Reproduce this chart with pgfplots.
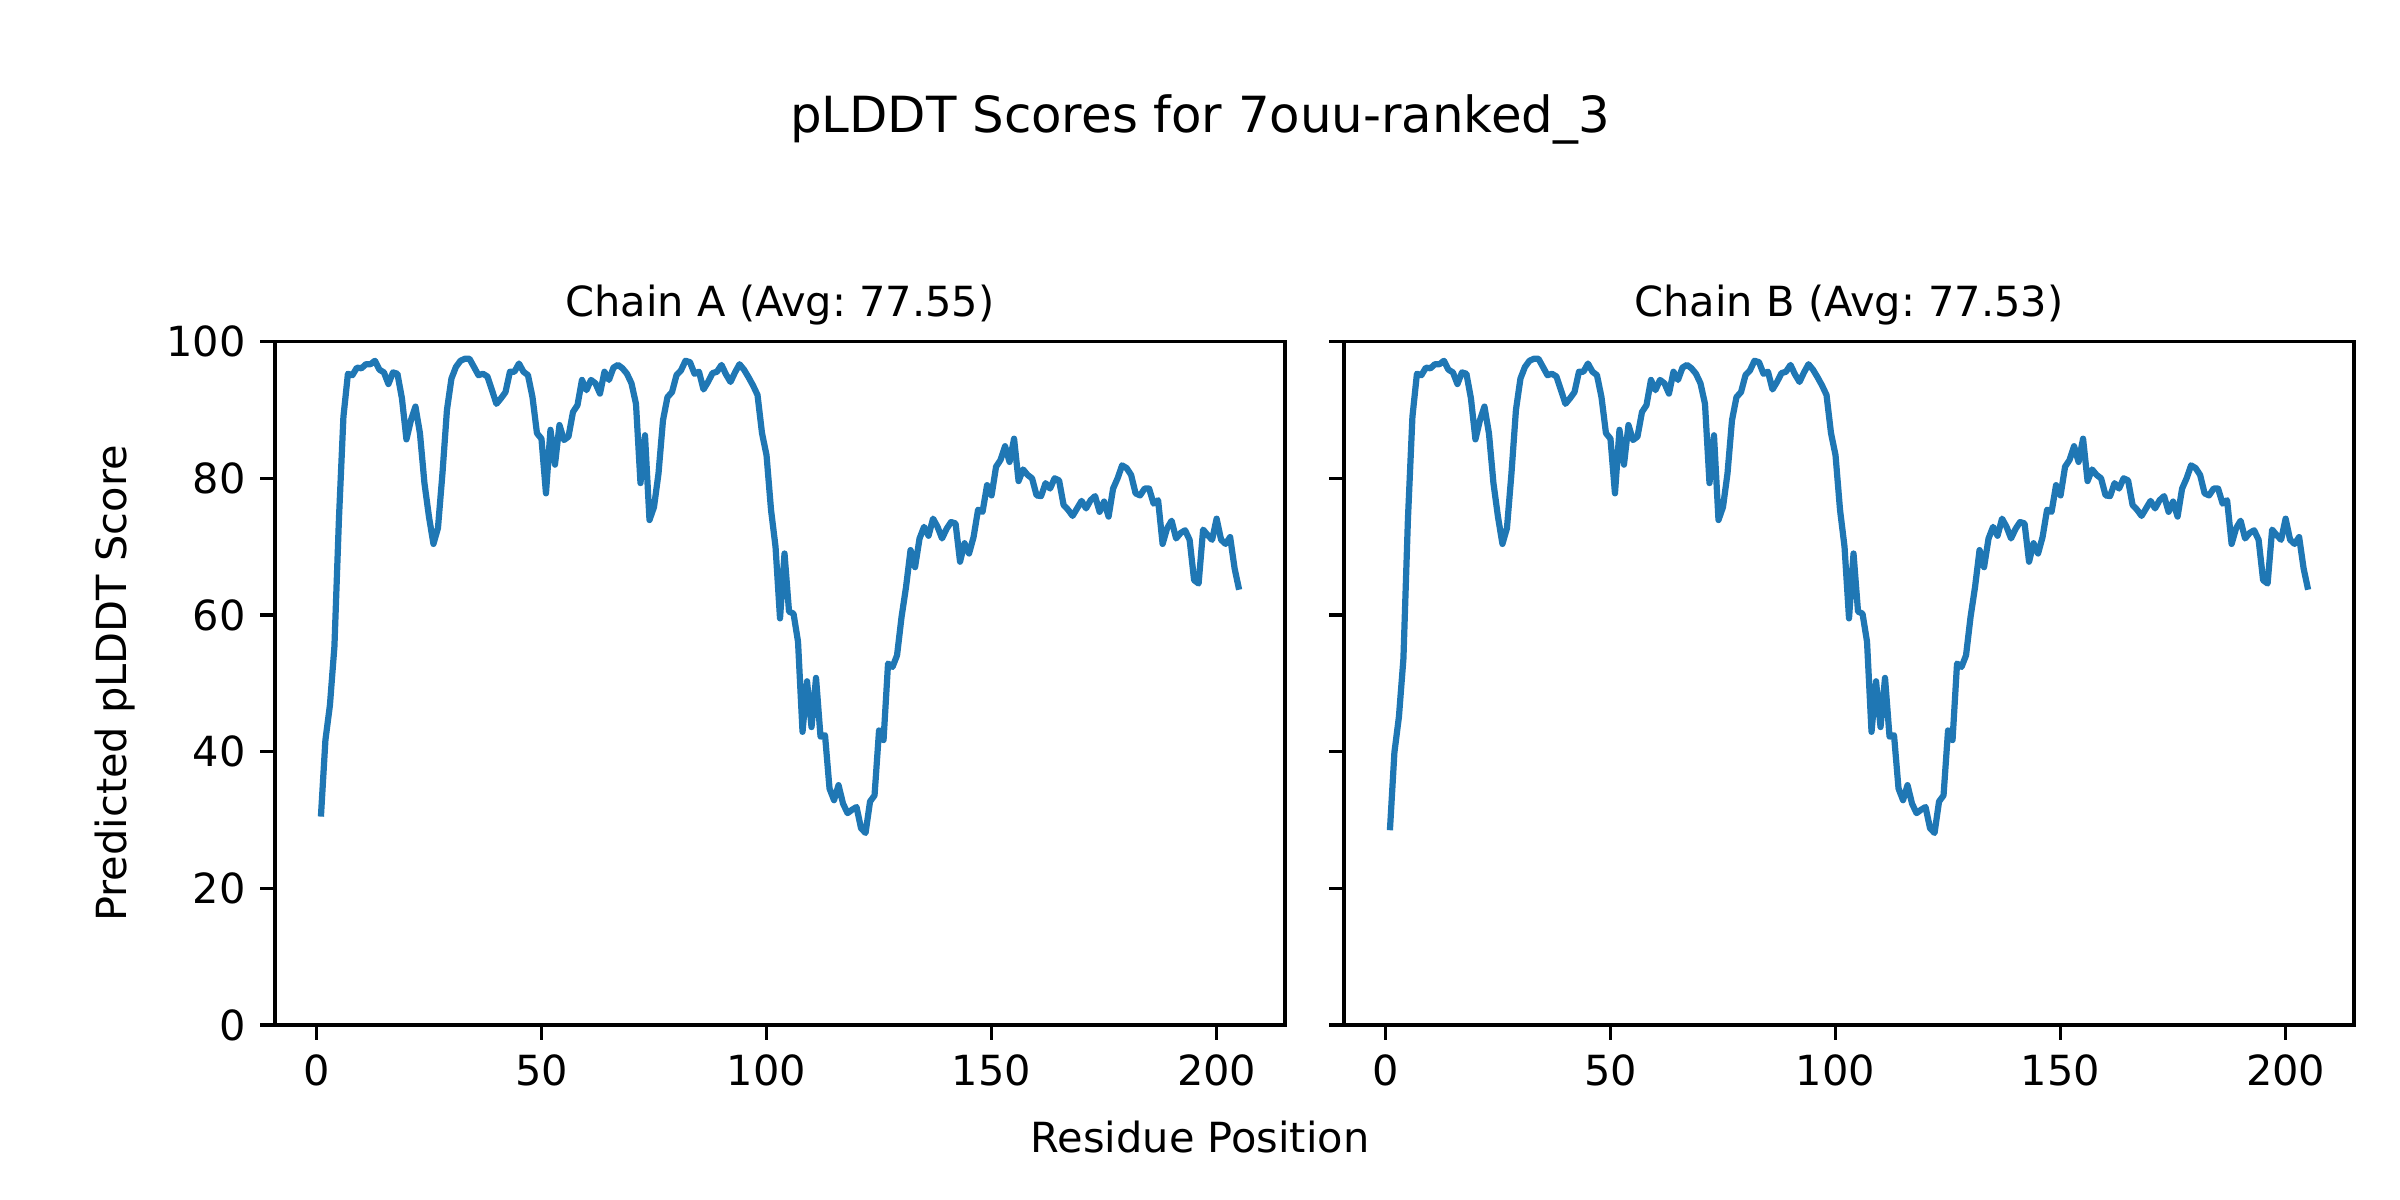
\documentclass[border=0pt]{standalone}
\usepackage{fontspec}
\setmainfont{DejaVu Sans}
\usepackage{pgfplots}
\usepackage{pgfplotstable}
\pgfplotsset{compat=1.18}
\definecolor{mplblue}{HTML}{1F77B4}
\frenchspacing

\pgfplotstableread{
x y
1 30.5
2 41.7
3 46.8
4 55.4
5 74.0
6 89.0
7 95.3
8 95.1
9 96.2
10 96.1
11 96.7
12 96.7
13 97.2
14 95.9
15 95.5
16 93.8
17 95.5
18 95.3
19 91.7
20 85.7
21 88.5
22 90.5
23 86.6
24 79.3
25 74.4
26 70.4
27 72.7
28 80.7
29 90.0
30 94.6
31 96.3
32 97.2
33 97.5
34 97.5
35 96.3
36 95.1
37 95.3
38 94.9
39 92.9
40 90.9
41 91.7
42 92.6
43 95.6
44 95.6
45 96.8
46 95.6
47 95.1
48 91.9
49 86.6
50 85.8
51 77.8
52 87.1
53 82.0
54 87.8
55 85.6
56 86.1
57 89.7
58 90.7
59 94.4
60 92.9
61 94.4
62 93.9
63 92.4
64 95.6
65 94.4
66 96.2
67 96.6
68 96.1
69 95.3
70 93.9
71 90.9
72 79.3
73 86.3
74 73.9
75 75.8
76 80.7
77 88.5
78 91.9
79 92.6
80 95.1
81 95.8
82 97.2
83 97.0
84 95.3
85 95.6
86 93.0
87 94.1
88 95.4
89 95.6
90 96.6
91 95.2
92 94.1
93 95.5
94 96.7
95 95.9
96 94.8
97 93.6
98 92.2
99 86.6
100 83.4
101 75.4
102 70.0
103 59.5
104 69.0
105 60.5
106 60.2
107 56.1
108 42.9
109 50.3
110 43.6
111 50.8
112 42.2
113 42.4
114 34.6
115 32.9
116 35.1
117 32.4
118 31.0
119 31.5
120 31.9
121 28.8
122 28.1
123 32.7
124 33.6
125 43.1
126 41.7
127 52.9
128 52.4
129 54.1
130 59.7
131 64.1
132 69.5
133 67.0
134 71.2
135 72.9
136 71.6
137 74.1
138 72.9
139 71.2
140 72.6
141 73.6
142 73.4
143 67.8
144 70.5
145 69.0
146 71.4
147 75.4
148 75.1
149 79.0
150 77.5
151 81.7
152 82.7
153 84.7
154 82.4
155 85.8
156 79.6
157 81.3
158 80.5
159 80.0
160 77.5
161 77.4
162 79.3
163 78.5
164 80.0
165 79.7
166 76.1
167 75.4
168 74.5
169 75.6
170 76.7
171 75.6
172 76.8
173 77.4
174 75.1
175 76.6
176 74.4
177 78.5
178 80.0
179 81.9
180 81.5
181 80.5
182 77.8
183 77.5
184 78.5
185 78.5
186 76.3
187 76.8
188 70.4
189 72.7
190 73.8
191 71.2
192 72.0
193 72.4
194 71.0
195 65.1
196 64.6
197 72.5
198 71.7
199 71.0
200 74.1
201 71.0
202 70.4
203 71.4
204 66.8
205 63.7
}\chainA

\pgfplotstableread{
x y
1 28.5
2 39.9
3 45.1
4 53.6
5 74.0
6 89.0
7 95.3
8 95.1
9 96.2
10 96.1
11 96.7
12 96.7
13 97.2
14 95.9
15 95.5
16 93.8
17 95.5
18 95.3
19 91.7
20 85.7
21 88.5
22 90.5
23 86.6
24 79.3
25 74.4
26 70.4
27 72.7
28 80.7
29 90.0
30 94.6
31 96.3
32 97.2
33 97.5
34 97.5
35 96.3
36 95.1
37 95.3
38 94.9
39 92.9
40 90.9
41 91.7
42 92.6
43 95.6
44 95.6
45 96.8
46 95.6
47 95.1
48 91.9
49 86.6
50 85.8
51 77.8
52 87.1
53 82.0
54 87.8
55 85.6
56 86.1
57 89.7
58 90.7
59 94.4
60 92.9
61 94.4
62 93.9
63 92.4
64 95.6
65 94.4
66 96.2
67 96.6
68 96.1
69 95.3
70 93.9
71 90.9
72 79.3
73 86.3
74 73.9
75 75.8
76 80.7
77 88.5
78 91.9
79 92.6
80 95.1
81 95.8
82 97.2
83 97.0
84 95.3
85 95.6
86 93.0
87 94.1
88 95.4
89 95.6
90 96.6
91 95.2
92 94.1
93 95.5
94 96.7
95 95.9
96 94.8
97 93.6
98 92.2
99 86.6
100 83.4
101 75.4
102 70.0
103 59.5
104 69.0
105 60.5
106 60.2
107 56.1
108 42.9
109 50.3
110 43.6
111 50.8
112 42.2
113 42.4
114 34.6
115 32.9
116 35.1
117 32.4
118 31.0
119 31.5
120 31.9
121 28.8
122 28.1
123 32.7
124 33.6
125 43.1
126 41.7
127 52.9
128 52.4
129 54.1
130 59.7
131 64.1
132 69.5
133 67.0
134 71.2
135 72.9
136 71.6
137 74.1
138 72.9
139 71.2
140 72.6
141 73.6
142 73.4
143 67.8
144 70.5
145 69.0
146 71.4
147 75.4
148 75.1
149 79.0
150 77.5
151 81.7
152 82.7
153 84.7
154 82.4
155 85.8
156 79.6
157 81.3
158 80.5
159 80.0
160 77.5
161 77.4
162 79.3
163 78.5
164 80.0
165 79.7
166 76.1
167 75.4
168 74.5
169 75.6
170 76.7
171 75.6
172 76.8
173 77.4
174 75.1
175 76.6
176 74.4
177 78.5
178 80.0
179 81.9
180 81.5
181 80.5
182 77.8
183 77.5
184 78.5
185 78.5
186 76.3
187 76.8
188 70.4
189 72.7
190 73.8
191 71.2
192 72.0
193 72.4
194 71.0
195 65.1
196 64.6
197 72.5
198 71.7
199 71.0
200 74.1
201 71.0
202 70.4
203 71.4
204 66.8
205 63.7
}\chainB

\pgfplotsset{
  panel/.style={
    scale only axis,
    width=3.3667in, height=2.2778in,
    anchor=south west,
    xmin=-9.2, xmax=215.2,
    ymin=0, ymax=100,
    xtick={0,50,100,150,200},
    ytick={0,20,40,60,80,100},
    tick align=outside,
    major tick length=3.5pt,
    tick style={line width=0.8pt, black},
    axis line style={line width=0.8pt},
    xtick pos=bottom, ytick pos=left,
    /pgf/number format/assume math mode=true,
    ticklabel style={font=\fontsize{10}{12}\selectfont},
    title style={at={(0.5,1)}, anchor=base, yshift=0pt, inner sep=0pt, font=\fontsize{10}{12}\selectfont},
  }
}

\begin{document}
\begin{tikzpicture}
\useasboundingbox (0,0) rectangle (8in,4in);

\begin{axis}[panel, at={(0.9167in,0.5833in)}, title={Chain A (Avg: 77.55)}]
\addplot[mplblue, line width=1.5pt, line join=round] table[x=x, y=y] {\chainA};
\end{axis}

\begin{axis}[panel, at={(4.48in,0.5833in)}, title={Chain B (Avg: 77.53)}, yticklabels={}]
\addplot[mplblue, line width=1.5pt, line join=round] table[x=x, y=y] {\chainB};
\end{axis}

\node[font=\fontsize{12}{14}\selectfont] at (4in,3.603in) {pLDDT Scores for 7ouu-ranked\_3};
\node[font=\fontsize{10}{12}\selectfont] at (4in,0.21in) {Residue Position};
\node[font=\fontsize{10}{12}\selectfont, rotate=90] at (0.385in,1.722in) {Predicted pLDDT Score};
\end{tikzpicture}
\end{document}
